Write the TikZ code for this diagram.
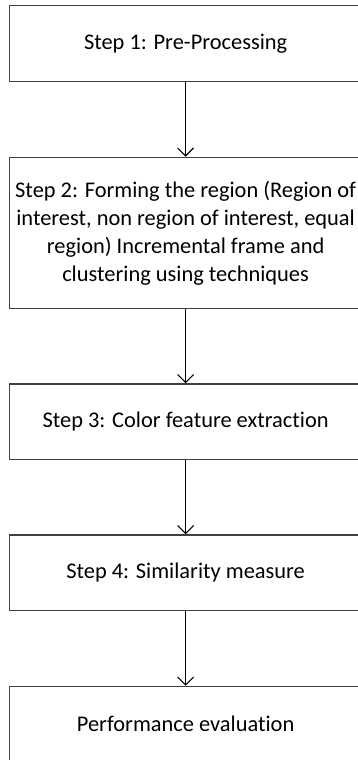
\documentclass[tikz,border=0pt]{standalone}
\usepackage{fontspec}
\setmainfont[RawFeature={-liga;-dlig;-clig}]{Carlito}
\usetikzlibrary{arrows.meta}
\begin{document}
\begin{tikzpicture}[x=1pt,y=1pt,
  stepbox/.style={draw=black!75, line width=1.2pt, minimum width=352pt, inner sep=0pt, align=center, font=\fontsize{22.4}{28}\selectfont, anchor=north west},
  flow/.style={-{Straight Barb[length=8pt,width=16pt,line width=1.1pt]}, line width=1.1pt, black}]
\useasboundingbox (0,0) rectangle (358,-760);
\node[stepbox, minimum height=75.7pt] (s1) at (9,-5) {Step 1: Pre-Processing};
\node[stepbox, minimum height=151pt] (s2) at (9,-156.7) {Step 2: Forming the region (Region of\\interest, non region of interest, equal\\region) Incremental frame and\\clustering using techniques};
\node[stepbox, minimum height=75.7pt] (s3) at (9,-383.3) {Step 3: Color feature extraction};
\node[stepbox, minimum height=75.7pt] (s4) at (9,-534.3) {Step 4: Similarity measure};
\node[stepbox, minimum height=75.7pt] (s5) at (9,-685.7) {Performance evaluation};
\draw[flow] (s1.south) -- (s2.north);
\draw[flow] (s2.south) -- (s3.north);
\draw[flow] (s3.south) -- (s4.north);
\draw[flow] (s4.south) -- (s5.north);
\end{tikzpicture}
\end{document}
